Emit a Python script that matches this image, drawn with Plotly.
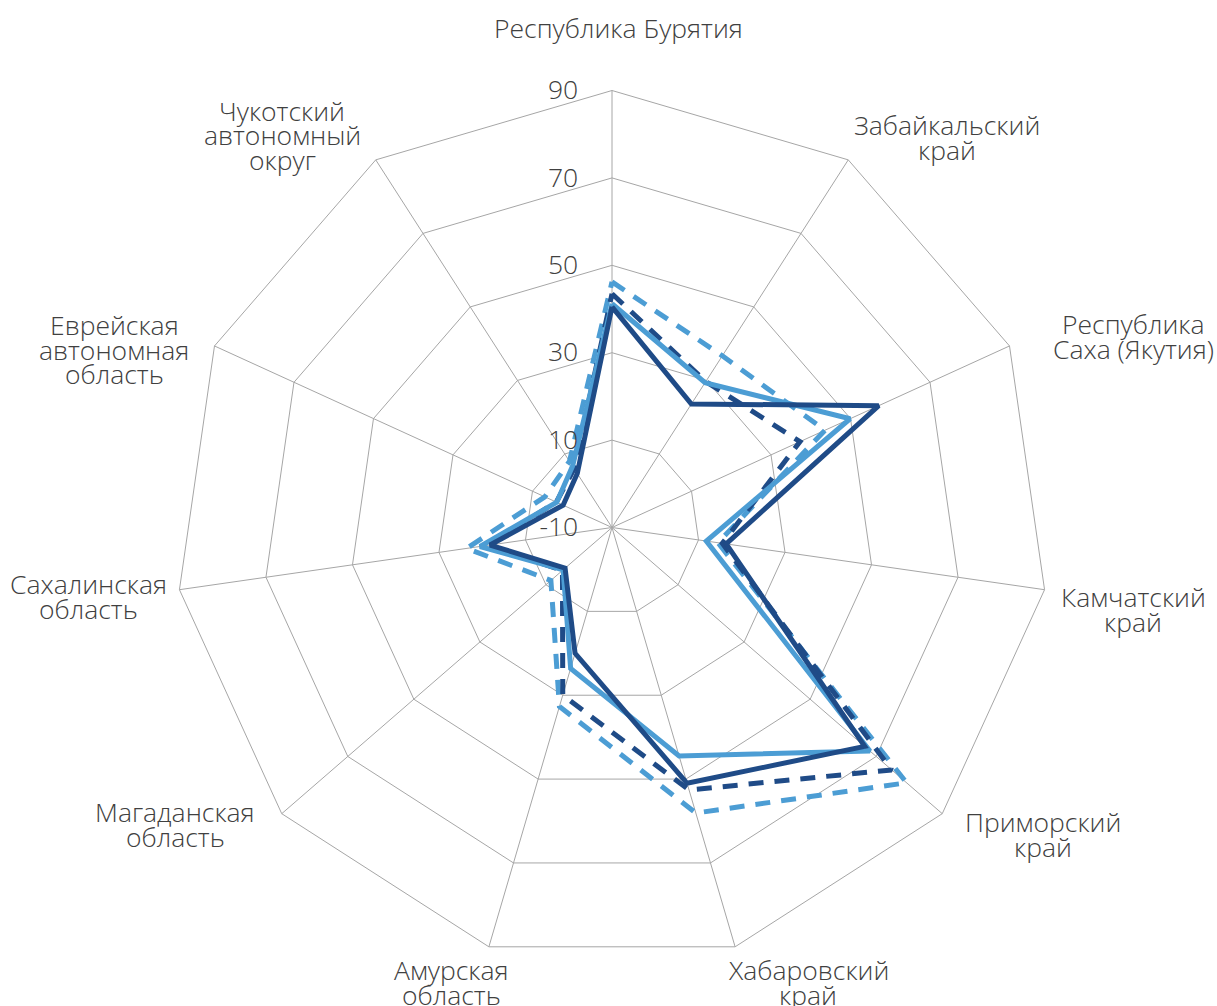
import plotly.graph_objects as go

# Regions of the Far Eastern Federal District, clockwise from the top
categories = [
    "Республика Бурятия",
    "Забайкальский край",
    "Республика Саха (Якутия)",
    "Камчатский край",
    "Приморский край",
    "Хабаровский край",
    "Амурская область",
    "Магаданская область",
    "Сахалинская область",
    "Еврейская автономная область",
    "Чукотский автономный округ",
]

# How each category name is broken into lines around the chart
label_lines = [
    ["Республика Бурятия"],
    ["Забайкальский", "край"],
    ["Республика", "Саха (Якутия)"],
    ["Камчатский", "край"],
    ["Приморский", "край"],
    ["Хабаровский", "край"],
    ["Амурская", "область"],
    ["Магаданская", "область"],
    ["Сахалинская", "область"],
    ["Еврейская", "автономная", "область"],
    ["Чукотский", "автономный", "округ"],
]

dark_solid = [40.5, 23.6, 57.1, 16.4, 66.5, 51.0, 20.0, 4.2, 18.2, 2.3, 4.7]
dark_dashed = [43.5, 29.7, 37.3, 15.5, 74.7, 52.6, 30.0, 5.0, 19.0, 4.0, 6.0]
light_solid = [41.2, 29.4, 49.9, 11.8, 68.1, 44.5, 23.6, 4.8, 20.5, 3.9, 6.7]
light_dashed = [46.2, 36.7, 43.6, 14.5, 79.2, 58.1, 32.7, 8.5, 23.6, 6.9, 8.0]

radial_ticks = [-10, 10, 30, 50, 70, 90]

# Page geometry (px): polar centre and radius of the outer ring
W, H = 1217, 1006
CX, CY, R = 612, 527.5, 437

# Category label block centres, as offsets (px) from the polar centre
label_offsets = [
    (6, -500), (335, -390), (521, -191), (521, 82), (431, 307), (196, 455),
    (-160, 455), (-437, 297), (-524, 69), (-498, -178), (-330, -392),
]
LINE_STEP = 24.5

DARK = "#1F4B87"
LIGHT = "#4C9DD4"
GRID = "#A6A6A6"
TEXT = "#404040"
FONT = "Open Sans"
FSIZE = 26.5

series = [
    ("Ряд 4", light_dashed, LIGHT, "15px,11px"),
    ("Ряд 2", dark_dashed, DARK, "15px,11px"),
    ("Ряд 3", light_solid, LIGHT, "solid"),
    ("Ряд 1", dark_solid, DARK, "solid"),
]

fig = go.Figure()
for name, vals, color, dash in series:
    fig.add_trace(go.Scatterpolar(
        r=vals + [vals[0]],
        theta=categories + [categories[0]],
        mode="lines",
        name=name,
        line=dict(color=color, width=5, dash=dash),
        showlegend=False,
        hoverinfo="skip",
    ))

# Category names, centred blocks with tight line spacing
annotations = []
for lines, (dx, dy) in zip(label_lines, label_offsets):
    n = len(lines)
    for i, line in enumerate(lines):
        py = CY + dy + (i - (n - 1) / 2) * LINE_STEP
        annotations.append(dict(
            text=line, x=(CX + dx) / W, y=1 - py / H,
            xref="paper", yref="paper", xanchor="center", yanchor="middle",
            showarrow=False,
            font=dict(family=FONT, size=FSIZE, color=TEXT, weight=300),
        ))

fig.update_layout(
    width=W,
    height=H,
    margin=dict(l=0, r=0, t=0, b=0),
    paper_bgcolor="white",
    plot_bgcolor="white",
    font=dict(family=FONT, color=TEXT, size=FSIZE, weight=300),
    annotations=annotations,
    polar=dict(
        domain=dict(x=[(CX - R) / W, (CX + R) / W],
                    y=[1 - (CY + R) / H, 1 - (CY - R) / H]),
        bgcolor="white",
        gridshape="linear",
        radialaxis=dict(
            range=[-10, 90],
            tickvals=radial_ticks,
            ticktext=[str(v) for v in radial_ticks],
            angle=90,
            tickangle=90,
            side="counterclockwise",
            showline=False,
            ticks="outside",
            ticklen=24,
            tickcolor="rgba(0,0,0,0)",
            gridcolor=GRID,
            gridwidth=1,
            tickfont=dict(family=FONT, size=FSIZE, color=TEXT, weight=300),
        ),
        angularaxis=dict(
            direction="clockwise",
            rotation=90,
            type="category",
            categoryarray=categories,
            showline=True,
            linecolor=GRID,
            linewidth=1,
            gridcolor=GRID,
            gridwidth=1,
            ticks="",
            showticklabels=False,
        ),
    ),
)

fig.write_html("out.html")
